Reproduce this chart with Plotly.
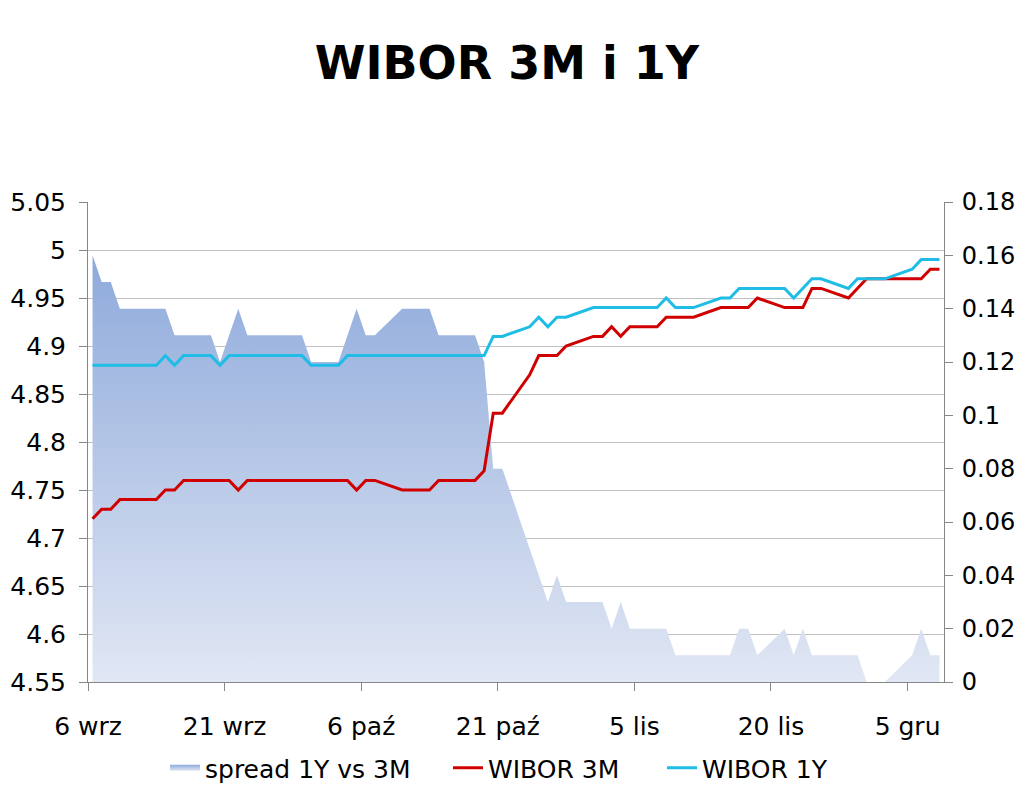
import plotly.graph_objects as go

dates = [
    "2011-09-06", "2011-09-07", "2011-09-08", "2011-09-09", "2011-09-12", "2011-09-13", "2011-09-14",
    "2011-09-15", "2011-09-16", "2011-09-19", "2011-09-20", "2011-09-21", "2011-09-22", "2011-09-23",
    "2011-09-26", "2011-09-27", "2011-09-28", "2011-09-29", "2011-09-30",
    "2011-10-03", "2011-10-04", "2011-10-05", "2011-10-06", "2011-10-07", "2011-10-10", "2011-10-11",
    "2011-10-12", "2011-10-13", "2011-10-14", "2011-10-17", "2011-10-18", "2011-10-19", "2011-10-20",
    "2011-10-21", "2011-10-24", "2011-10-25", "2011-10-26", "2011-10-27", "2011-10-28", "2011-10-31",
    "2011-11-01", "2011-11-02", "2011-11-03", "2011-11-04", "2011-11-07", "2011-11-08", "2011-11-09",
    "2011-11-10", "2011-11-11", "2011-11-14", "2011-11-15", "2011-11-16", "2011-11-17", "2011-11-18",
    "2011-11-21", "2011-11-22", "2011-11-23", "2011-11-24", "2011-11-25", "2011-11-28", "2011-11-29",
    "2011-11-30", "2011-12-01", "2011-12-02", "2011-12-05", "2011-12-06", "2011-12-07", "2011-12-08",
]

wibor_1y = [
    4.88, 4.88, 4.88, 4.88, 4.88, 4.88, 4.89, 4.88, 4.89, 4.89, 4.88, 4.89, 4.89, 4.89,
    4.89, 4.89, 4.89, 4.89, 4.88,
    4.88, 4.89, 4.89, 4.89, 4.89, 4.89, 4.89, 4.89, 4.89, 4.89, 4.89, 4.89, 4.89, 4.91,
    4.91, 4.92, 4.93, 4.92, 4.93, 4.93, 4.94,
    4.94, 4.94, 4.94, 4.94, 4.94, 4.95, 4.94, 4.94, 4.94, 4.95, 4.95, 4.96, 4.96, 4.96,
    4.96, 4.95, 4.96, 4.97, 4.97, 4.96, 4.97, 4.97,
    4.97, 4.97, 4.98, 4.99, 4.99, 4.99,
]

wibor_3m = [
    4.72, 4.73, 4.73, 4.74, 4.74, 4.74, 4.75, 4.75, 4.76, 4.76, 4.76, 4.76, 4.75, 4.76,
    4.76, 4.76, 4.76, 4.76, 4.76,
    4.76, 4.76, 4.75, 4.76, 4.76, 4.75, 4.75, 4.75, 4.75, 4.76, 4.76, 4.76, 4.77, 4.83,
    4.83, 4.87, 4.89, 4.89, 4.89, 4.90, 4.91,
    4.91, 4.92, 4.91, 4.92, 4.92, 4.93, 4.93, 4.93, 4.93, 4.94, 4.94, 4.94, 4.94, 4.95,
    4.94, 4.94, 4.94, 4.96, 4.96, 4.95, 4.96, 4.97,
    4.97, 4.97, 4.97, 4.97, 4.98, 4.98,
]

spread = [
    0.16, 0.15, 0.15, 0.14, 0.14, 0.14, 0.14, 0.13, 0.13, 0.13, 0.12, 0.13, 0.14, 0.13,
    0.13, 0.13, 0.13, 0.13, 0.12,
    0.12, 0.13, 0.14, 0.13, 0.13, 0.14, 0.14, 0.14, 0.14, 0.13, 0.13, 0.13, 0.12, 0.08,
    0.08, 0.05, 0.04, 0.03, 0.04, 0.03, 0.03,
    0.03, 0.02, 0.03, 0.02, 0.02, 0.02, 0.01, 0.01, 0.01, 0.01, 0.01, 0.02, 0.02, 0.01,
    0.02, 0.01, 0.02, 0.01, 0.01, 0.01, 0.01, 0.00,
    0.00, 0.00, 0.01, 0.02, 0.01, 0.01,
]

x_tick_dates = ["2011-09-06", "2011-09-21", "2011-10-06", "2011-10-21", "2011-11-05", "2011-11-20", "2011-12-05"]
x_tick_labels = ["6 wrz", "21 wrz", "6 paź", "21 paź", "5 lis", "20 lis", "5 gru"]

left_ticks = [4.55, 4.6, 4.65, 4.7, 4.75, 4.8, 4.85, 4.9, 4.95, 5.0, 5.05]
left_labels = ["4.55", "4.6", "4.65", "4.7", "4.75", "4.8", "4.85", "4.9", "4.95", "5", "5.05"]
right_ticks = [0, 0.02, 0.04, 0.06, 0.08, 0.1, 0.12, 0.14, 0.16, 0.18]
right_labels = ["0", "0.02", "0.04", "0.06", "0.08", "0.1", "0.12", "0.14", "0.16", "0.18"]

# points sit in the middle of each day on the date axis
x_mid = [d + " 12:00" for d in dates]

FONT = "DejaVu Sans, Verdana, sans-serif"
AXIS_COLOR = "#868686"
W, H = 1024, 791
ML, MR, MT, MB = 88, 80, 202, 109
PW = W - ML - MR


def legend_at(px_left):
    return dict(orientation="h", x=(px_left - ML) / PW, xanchor="left",
                yref="container", y=1 - 768 / H, yanchor="middle",
                font=dict(family=FONT, size=25), itemwidth=30,
                bgcolor="rgba(0,0,0,0)", borderwidth=0)


fig = go.Figure()

fig.add_trace(go.Scatter(
    x=x_mid, y=spread, name="spread 1Y vs 3M", mode="none",
    fill="tozeroy",
    fillgradient=dict(type="vertical", start=0, stop=0.16,
                      colorscale=[[0, "#e1e7f4"], [1, "#8eaadb"]]),
    yaxis="y", legend="legend",
))
fig.add_trace(go.Scatter(
    x=x_mid, y=wibor_3m, name="WIBOR 3M", mode="lines",
    line=dict(color="#d00000", width=3), yaxis="y2", legend="legend2",
))
fig.add_trace(go.Scatter(
    x=x_mid, y=wibor_1y, name="WIBOR 1Y", mode="lines",
    line=dict(color="#1fbde6", width=3), yaxis="y2", legend="legend3",
))

fig.update_layout(
    width=W, height=H,
    margin=dict(l=ML, r=MR, t=MT, b=MB, autoexpand=False),
    paper_bgcolor="white", plot_bgcolor="white",
    font=dict(family=FONT, size=25, color="black"),
    title=dict(text="<b>WIBOR 3M i 1Y</b>", x=0.495, xanchor="center", y=0.921, yanchor="middle",
               font=dict(family=FONT, size=46, color="black")),
    showlegend=True,
    legend=legend_at(165),
    legend2=legend_at(448),
    legend3=legend_at(662),
    xaxis=dict(
        type="date", range=["2011-09-06", "2011-12-09"],
        tickvals=x_tick_dates, ticktext=x_tick_labels,
        showgrid=False, showline=True, linecolor=AXIS_COLOR, linewidth=1,
        ticks="outside", ticklen=8, tickcolor=AXIS_COLOR, ticklabelstandoff=14,
        zeroline=False, automargin=False,
    ),
    yaxis=dict(
        side="right", range=[0, 0.18], tickvals=right_ticks, ticktext=right_labels,
        showgrid=False, showline=True, linecolor=AXIS_COLOR, linewidth=1,
        ticks="outside", ticklen=8, tickcolor=AXIS_COLOR, ticklabelstandoff=4,
        tickfont=dict(family=FONT, size=24),
        zeroline=False, automargin=False,
    ),
    yaxis2=dict(
        overlaying="y", side="left", range=[4.55, 5.05],
        tickvals=left_ticks, ticktext=left_labels,
        showgrid=True, gridcolor="#c0c0c0", gridwidth=1,
        showline=True, linecolor=AXIS_COLOR, linewidth=1,
        ticks="outside", ticklen=8, tickcolor=AXIS_COLOR, ticklabelstandoff=8,
        zeroline=False, automargin=False,
    ),
)

fig.write_html("out.html")
